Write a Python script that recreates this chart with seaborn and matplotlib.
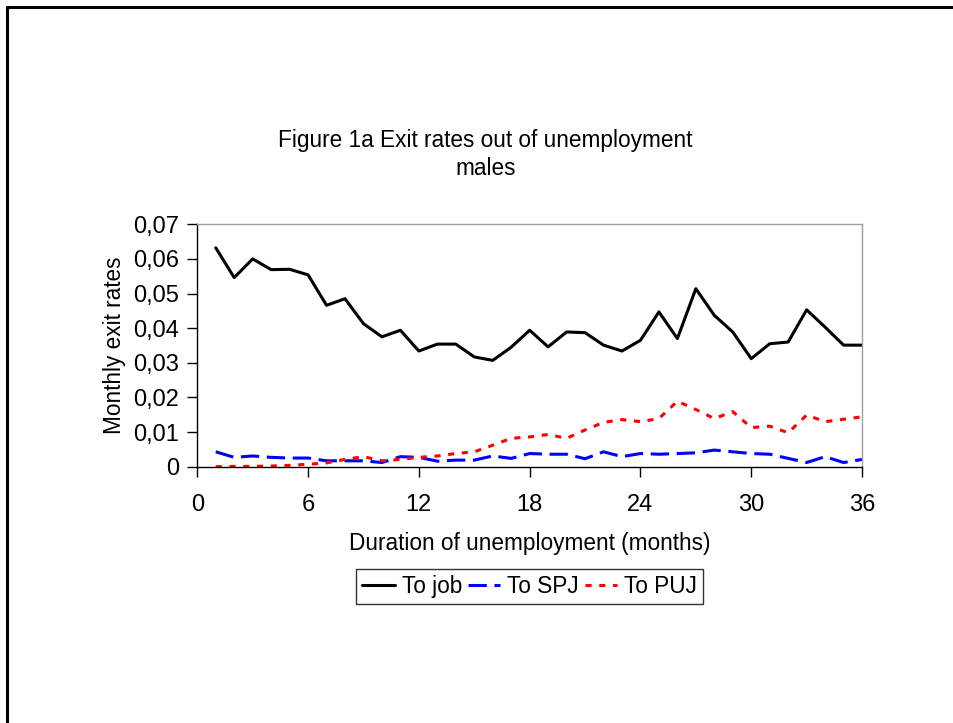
import numpy as np
import pandas as pd
import seaborn as sns
import matplotlib
matplotlib.use("Agg")
import matplotlib.pyplot as plt
from matplotlib.ticker import FuncFormatter, MultipleLocator
from matplotlib.lines import Line2D

# Monthly exit rates out of unemployment, males
months = list(range(1, 37))
to_job = [0.0632, 0.0546, 0.0600, 0.0569, 0.0570, 0.0554, 0.0466, 0.0485, 0.0413, 0.0375,
          0.0394, 0.0334, 0.0354, 0.0354, 0.0317, 0.0307, 0.0345, 0.0394, 0.0346, 0.0389,
          0.0387, 0.0351, 0.0334, 0.0365, 0.0447, 0.0370, 0.0514, 0.0437, 0.0389, 0.0312,
          0.0355, 0.0360, 0.0453, 0.0403, 0.0351, 0.0351]
to_spj = [0.0043, 0.0027, 0.0031, 0.0027, 0.0025, 0.0025, 0.0017, 0.0017, 0.0017, 0.0012,
          0.0029, 0.0027, 0.0016, 0.0019, 0.0019, 0.0031, 0.0024, 0.0038, 0.0036, 0.0036,
          0.0023, 0.0043, 0.0029, 0.0038, 0.0036, 0.0038, 0.0040, 0.0048, 0.0043, 0.0038,
          0.0036, 0.0024, 0.0012, 0.0029, 0.0012, 0.0021]
to_puj = [0.0000, 0.0001, 0.0001, 0.0002, 0.0004, 0.0007, 0.0011, 0.0021, 0.0029, 0.0017,
          0.0021, 0.0027, 0.0031, 0.0038, 0.0043, 0.0062, 0.0082, 0.0086, 0.0093, 0.0082,
          0.0106, 0.0128, 0.0136, 0.0130, 0.0139, 0.0189, 0.0165, 0.0139, 0.0159, 0.0113,
          0.0117, 0.0098, 0.0149, 0.0130, 0.0137, 0.0144]
series_names = ["To job", "To SPJ", "To PUJ"]

df = pd.DataFrame({"month": months * 3,
                   "rate": to_job + to_spj + to_puj,
                   "series": np.repeat(series_names, len(months))})

sns.set_theme(style="white")
plt.rcParams["font.family"] = ["Liberation Sans", "DejaVu Sans"]
plt.rcParams.update({"text.color": "black", "axes.labelcolor": "black",
                     "xtick.color": "black", "ytick.color": "black"})

fig = plt.figure(figsize=(9.54, 7.23), dpi=100)
ax = fig.add_axes([0.2068, 0.3545, 0.6968, 0.3353])

palette = {"To job": "black", "To SPJ": "#0000ff", "To PUJ": "#ff0000"}
dash_job = ""
dash_spj = (6, 2.5)
dash_puj = (2, 2.5)
dashes = {"To job": dash_job, "To SPJ": dash_spj, "To PUJ": dash_puj}
lw = 2.2
sns.lineplot(data=df, x="month", y="rate", hue="series", style="series",
             palette=palette, dashes=dashes, linewidth=lw, ax=ax, legend=False)

ax.set_xlim(0, 36)
ax.set_ylim(0, 0.07)
ax.xaxis.set_major_locator(MultipleLocator(6))
ax.yaxis.set_major_locator(MultipleLocator(0.01))
ax.yaxis.set_major_formatter(FuncFormatter(
    lambda v, p: "0" if abs(v) < 1e-9 else f"{v:.2f}".replace(".", ",")))
ax.tick_params(axis="both", labelsize=17, direction="out", length=7, width=1,
               color="black", labelcolor="black", left=True, bottom=True)
ax.tick_params(axis="x", pad=13)
ax.tick_params(axis="y", pad=6)
for side in ("left", "bottom"):
    ax.spines[side].set_color("black")
    ax.spines[side].set_linewidth(1.0)
for side in ("top", "right"):
    ax.spines[side].set_color("#a0a0a0")
    ax.spines[side].set_linewidth(1.0)

ax.set_xlabel("Duration of unemployment (months)", fontsize=16.3, labelpad=11)
ax.set_ylabel("Monthly exit rates", fontsize=16.3, labelpad=5)

fig.text(0.509, 0.7865, "Figure 1a Exit rates out of unemployment\nmales",
         ha="center", va="center", fontsize=16.3, linespacing=1.25)

handles = [Line2D([], [], color="black", lw=lw),
           Line2D([], [], color="#0000ff", lw=lw, dashes=dash_spj),
           Line2D([], [], color="#ff0000", lw=lw, dashes=dash_puj)]
leg = fig.legend(handles, series_names, loc="center", bbox_to_anchor=(0.555, 0.189),
                 ncol=3, fontsize=16.3, frameon=True, fancybox=False, handlelength=1.45,
                 handletextpad=0.3, columnspacing=0.25, borderpad=0.25, borderaxespad=0)
leg.get_frame().set_edgecolor("black")
leg.get_frame().set_linewidth(1.0)

# outer chart frame
fig.add_artist(Line2D([0.0073, 0.0073], [0, 0.9903], transform=fig.transFigure,
                      color="black", lw=2.2))
fig.add_artist(Line2D([0.0073, 1.0], [0.9903, 0.9903], transform=fig.transFigure,
                      color="black", lw=2.2))

fig.savefig("out.png", dpi=100, facecolor="white")
